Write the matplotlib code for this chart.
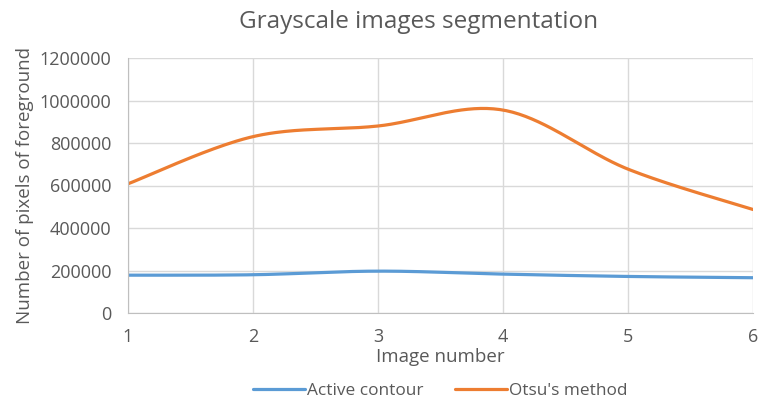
import numpy as np
import matplotlib
matplotlib.use("Agg")
import matplotlib.pyplot as plt

plt.rcParams['font.family'] = ['Open Sans', 'DejaVu Sans']

# data
image_number = [1, 2, 3, 4, 5, 6]
active_contour = [178000, 180000, 197000, 183000, 172000, 166000]
otsu_method = [608000, 830000, 880000, 955000, 677000, 487000]

GREY = '#595959'
BLUE = '#5B9BD5'
ORANGE = '#ED7D31'


def smooth(x, y, n=40):
    # excel-like smoothed line (catmull-rom bezier segments)
    x = np.asarray(x, float)
    y = np.asarray(y, float)
    px = np.concatenate([[x[0]], x, [x[-1]]])
    py = np.concatenate([[y[0]], y, [y[-1]]])
    xs, ys = [], []
    t = np.linspace(0, 1, n)
    for i in range(1, len(px) - 2):
        p0 = np.array([px[i], py[i]])
        p3 = np.array([px[i + 1], py[i + 1]])
        p1 = p0 + (np.array([px[i + 1], py[i + 1]]) - np.array([px[i - 1], py[i - 1]])) / 6
        p2 = p3 - (np.array([px[i + 2], py[i + 2]]) - np.array([px[i], py[i]])) / 6
        b = ((1 - t) ** 3)[:, None] * p0 + (3 * (1 - t) ** 2 * t)[:, None] * p1 \
            + (3 * (1 - t) * t ** 2)[:, None] * p2 + (t ** 3)[:, None] * p3
        xs.extend(b[:, 0])
        ys.extend(b[:, 1])
    return xs, ys


fig = plt.figure(figsize=(7.61, 4.0), dpi=100)
ax = fig.add_axes([128 / 761, 1 - 313 / 400, (753 - 128) / 761, (313 - 58) / 400])

sx, sy = smooth(image_number, active_contour)
ax.plot(sx, sy, color=BLUE, lw=2.3, label='Active contour', solid_capstyle='round')
sx, sy = smooth(image_number, otsu_method)
ax.plot(sx, sy, color=ORANGE, lw=2.3, label="Otsu's method", solid_capstyle='round')

ax.set_xlim(1, 6)
ax.set_ylim(0, 1200000)
ax.set_xticks(image_number)
ax.set_yticks(np.arange(0, 1200001, 200000))
ax.set_yticklabels([str(v) for v in range(0, 1200001, 200000)])
ax.grid(True, color='#d9d9d9', lw=1)
ax.set_axisbelow(True)
for s in ['top', 'right']:
    ax.spines[s].set_visible(False)
for s in ['left', 'bottom']:
    ax.spines[s].set_color('#bfbfbf')
ax.tick_params(length=0, colors=GREY, labelsize=13)
ax.tick_params(axis='x', pad=11)
ax.tick_params(axis='y', pad=12)

fig.text(419 / 761, 1 - 22 / 400, 'Grayscale images segmentation', color=GREY,
         fontsize=17.5, ha='center', va='center')
ax.set_xlabel('Image number', color=GREY, fontsize=13.5, labelpad=1)
ax.set_ylabel('Number of pixels of foreground', color=GREY, fontsize=13.5, labelpad=4)

ax.legend(loc='upper center', bbox_to_anchor=(0.5, -0.215), ncol=2, frameon=False,
          fontsize=12.4, labelcolor=GREY, handlelength=3, columnspacing=1.8, handletextpad=0.15)

fig.savefig('out.png', dpi=100)
